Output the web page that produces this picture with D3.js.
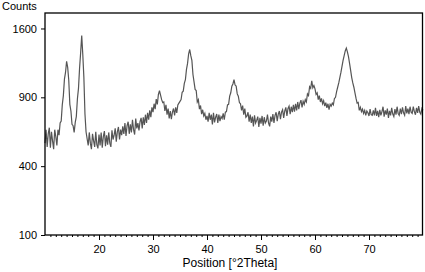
<!DOCTYPE html>
<html>
<head>
<meta charset="utf-8">
<script src="https://cdn.jsdelivr.net/npm/d3@7"></script>
<style>
  body { margin: 0; background: #fff; }
  svg { display: block; font-family: "Liberation Sans", Arial, sans-serif; }
</style>
</head>
<body>
<svg id="chart" width="425" height="272"></svg>
<script>
// XRD 衍射图谱 (sqrt 纵轴)

// 数据：从 10° 开始，每 0.2° 一个点
const startAngle = 10;
const stepAngle = 0.2;
const counts = [
  545, 640, 520, 610, 655, 515, 625, 560, 505, 640,   // 10
  590, 530, 640, 600, 690, 705, 835, 915, 1065, 1130, // 12
  1240, 1180, 1055, 840, 785, 680, 670, 620, 695, 740, // 14
  885, 980, 1170, 1330, 1520, 1310, 1080, 760, 625, 575, // 16
  530, 620, 545, 505, 610, 560, 520, 625, 535, 510,   // 18
  605, 530, 620, 515, 590, 630, 525, 600, 535, 620,   // 20
  545, 520, 635, 570, 600, 650, 555, 625, 660, 570,   // 22
  640, 600, 665, 610, 690, 595, 670, 700, 610, 680,   // 24
  620, 715, 640, 605, 725, 650, 690, 635, 700, 730,   // 26
  650, 735, 675, 755, 690, 770, 715, 790, 735, 815,   // 28
  775, 845, 800, 885, 840, 925, 960, 920, 880, 855,   // 30
  860, 785, 835, 755, 805, 725, 785, 720, 775, 805,   // 32
  750, 815, 770, 835, 850, 865, 880, 945, 955, 1025,  // 34
  1060, 1160, 1220, 1320, 1365, 1300, 1250, 1110, 1040, 970, // 36
  960, 860, 880, 800, 830, 760, 795, 745, 765, 715,   // 38
  745, 700, 770, 715, 755, 680, 770, 695, 735, 760,   // 40
  690, 755, 705, 740, 725, 765, 715, 775, 780, 835,   // 42
  840, 910, 940, 1000, 1020, 1060, 1010, 1000, 930, 910, // 44
  855, 845, 790, 830, 755, 805, 735, 745, 775, 700,   // 46
  755, 690, 740, 665, 750, 690, 710, 740, 660, 730,   // 48
  685, 745, 670, 735, 690, 705, 755, 690, 665, 740,   // 50
  700, 760, 690, 750, 775, 705, 760, 785, 720, 775,   // 52
  795, 730, 785, 815, 745, 805, 825, 760, 820, 775,   // 54
  835, 780, 845, 790, 860, 800, 850, 875, 815, 865,   // 56
  840, 880, 860, 930, 915, 995, 980, 1050, 985, 1005, // 58
  975, 925, 940, 880, 915, 860, 890, 845, 870, 825,   // 60
  855, 810, 845, 795, 840, 825, 850, 835, 890, 900,   // 62
  950, 990, 1030, 1080, 1130, 1190, 1250, 1300, 1350, 1380, // 64
  1340, 1290, 1220, 1150, 1080, 1030, 990, 940, 890, 850, // 66
  855, 790, 815, 780, 800, 765, 790, 750, 785, 770,   // 68
  745, 800, 755, 750, 790, 750, 810, 745, 785, 735,   // 70
  795, 750, 780, 820, 740, 790, 755, 805, 730, 785,   // 72
  750, 810, 760, 740, 800, 755, 820, 765, 750, 805,   // 74
  760, 815, 770, 750, 825, 765, 805, 760, 820, 775,   // 76
  765, 820, 780, 755, 810, 770, 825, 775, 760, 805,   // 78
  790                                                 // 80
];

const xTicks = [20, 30, 40, 50, 60, 70];
const yTicks = [100, 400, 900, 1600];

const margin = {top: 13, right: 2, bottom: 37, left: 45};
const width = 425, height = 272;

const svg = d3.select("#chart");

const x = d3.scaleLinear().domain([10, 80]).range([margin.left, width - margin.right]);
const y = d3.scaleSqrt().domain([100, 1785]).range([height - margin.bottom, margin.top]);

const points = counts.map((c, i) => ({ angle: startAngle + i * stepAngle, count: c }));

// 曲线
const line = d3.line().x(d => x(d.angle)).y(d => y(d.count));
svg.append("path")
  .datum(points)
  .attr("d", line)
  .attr("fill", "none")
  .attr("stroke", "#555")
  .attr("stroke-width", 1.2);

// 边框
svg.append("rect")
  .attr("x", margin.left)
  .attr("y", margin.top)
  .attr("width", width - margin.left - margin.right - 0.5)
  .attr("height", height - margin.top - margin.bottom)
  .attr("fill", "none")
  .attr("stroke", "#000")
  .attr("stroke-width", 1.3);

// x 轴：小刻度
const xMinor = d3.range(11, 80).filter(v => v % 10 !== 0);
svg.append("g")
  .attr("transform", `translate(0,${height - margin.bottom})`)
  .call(d3.axisBottom(x).tickValues(xMinor).tickSize(2).tickFormat(""))
  .call(g => g.select(".domain").remove())
  .call(g => g.selectAll("line").attr("stroke", "#000"));

// x 轴：主刻度
svg.append("g")
  .attr("transform", `translate(0,${height - margin.bottom})`)
  .call(d3.axisBottom(x).tickValues(xTicks).tickSize(5).tickPadding(5))
  .call(g => g.select(".domain").remove())
  .call(g => g.selectAll("line").attr("stroke", "#000"))
  .call(g => g.selectAll("text").attr("font-size", 11).attr("fill", "#000")
    .attr("font-family", "Liberation Sans, Arial, sans-serif"));

// y 轴
svg.append("g")
  .attr("transform", `translate(${margin.left},0)`)
  .call(d3.axisLeft(y).tickValues(yTicks).tickSize(4).tickPadding(4).tickFormat(d3.format("d")))
  .call(g => g.select(".domain").remove())
  .call(g => g.selectAll("line").attr("stroke", "#000"))
  .call(g => g.selectAll("text").attr("font-size", 11).attr("fill", "#000")
    .attr("font-family", "Liberation Sans, Arial, sans-serif"));

// 标题
svg.append("text")
  .attr("x", 2).attr("y", 10)
  .attr("font-size", 11)
  .text("Counts");

svg.append("text")
  .attr("x", 230).attr("y", 267)
  .attr("text-anchor", "middle")
  .attr("font-size", 12)
  .text("Position [°2Theta]");
</script>
</body>
</html>
